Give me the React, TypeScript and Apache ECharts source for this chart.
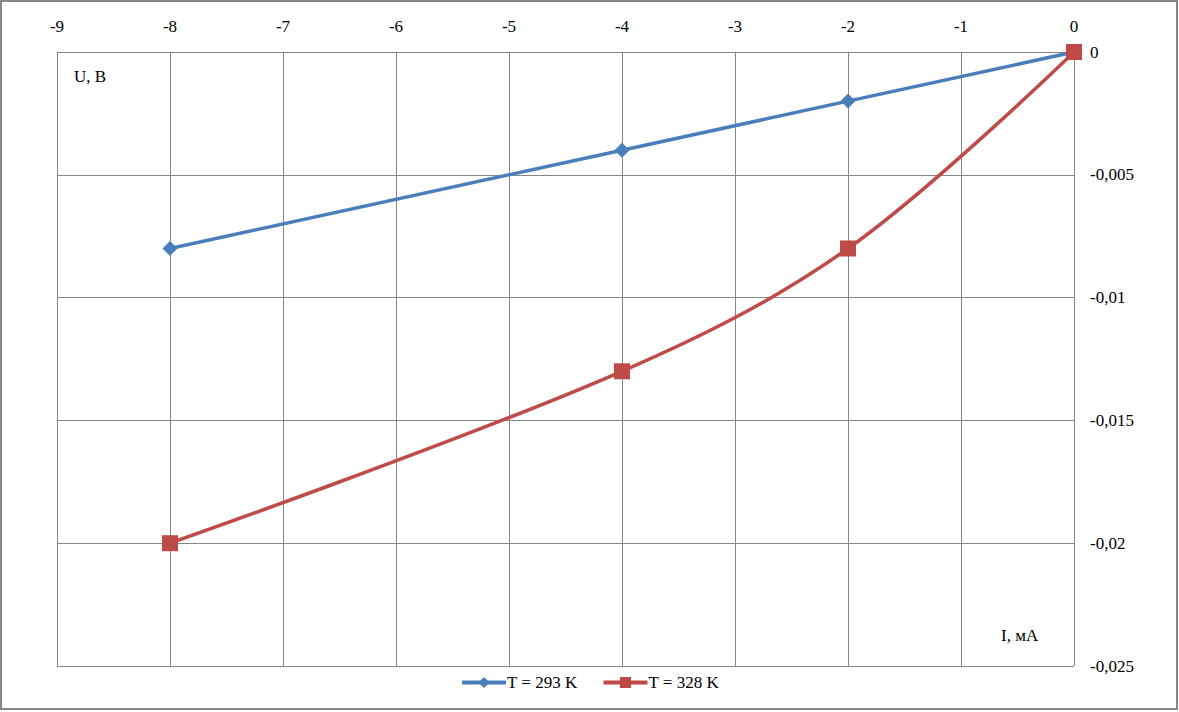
import React, { useEffect, useRef } from "react";
import * as echarts from "echarts";

const currents = [-8, -4, -2, 0];
const u293 = [-0.008, -0.004, -0.002, 0];
const u328 = [-0.02, -0.013, -0.008, 0];
const seriesNames = ["T = 293 K", "T = 328 K"];

export default function App() {
  const ref = useRef<HTMLDivElement>(null);
  useEffect(() => {
    const chart = echarts.init(ref.current!, undefined, { renderer: "svg" });
    const font = "'Liberation Serif', 'DejaVu Serif', serif";
    chart.setOption({
      animation: false,
      backgroundColor: "#ffffff",
      textStyle: { fontFamily: font },
      grid: { left: 57, right: 105, top: 52, bottom: 46 },
      xAxis: {
        type: "value",
        position: "top",
        min: -9,
        max: 0,
        interval: 1,
        axisLine: { show: false },
        axisTick: { show: false },
        axisLabel: { color: "#000", fontSize: 17, fontFamily: font, margin: 17 },
        splitLine: { show: true, lineStyle: { color: "#868686", width: 1 } },
      },
      yAxis: {
        type: "value",
        position: "right",
        min: -0.025,
        max: 0,
        interval: 0.005,
        axisLine: { show: false },
        axisTick: { show: false },
        axisLabel: {
          color: "#000",
          fontSize: 17,
          fontFamily: font,
          margin: 16,
          formatter: (v: number) => (v === 0 ? "0" : String(Number(v.toFixed(3))).replace(".", ",")),
        },
        splitLine: { show: true, lineStyle: { color: "#868686", width: 1 } },
      },
      legend: {
        bottom: 16,
        left: "center",
        itemWidth: 44,
        itemHeight: 14,
        itemGap: 24,
        lineStyle: { width: 4 },
        textStyle: { color: "#000", fontSize: 17, fontFamily: font, padding: [0, 0, 0, -4] },
        data: seriesNames,
      },
      series: [
        {
          name: seriesNames[0],
          type: "line",
          data: currents.map((x, i) => [x, u293[i]]),
          symbol: "diamond",
          symbolSize: 15,
          itemStyle: { color: "#4A7EBB" },
          lineStyle: { color: "#4A7EBB", width: 3.5 },
        },
        {
          name: seriesNames[1],
          type: "line",
          data: currents.map((x, i) => [x, u328[i]]),
          symbol: "rect",
          symbolSize: 16,
          smooth: 0.35,
          itemStyle: { color: "#BE4B48" },
          lineStyle: { color: "#BE4B48", width: 3.5 },
        },
      ],
      graphic: [
        {
          type: "rect",
          shape: { x: 1, y: 1, width: 1176, height: 708 },
          style: { fill: "none", stroke: "#878787", lineWidth: 2 },
          silent: true,
        },
        {
          type: "text",
          x: 74,
          y: 68,
          style: { text: "U, B", fill: "#000", fontSize: 17, fontFamily: font },
        },
        {
          type: "text",
          x: 1001,
          y: 627,
          style: { text: "I, мА", fill: "#000", fontSize: 17, fontFamily: font },
        },
      ],
    });
    return () => chart.dispose();
  }, []);
  return (
    <div
      ref={ref}
      style={{ position: "fixed", left: 0, top: 0, width: 1179, height: 712 }}
    />
  );
}
